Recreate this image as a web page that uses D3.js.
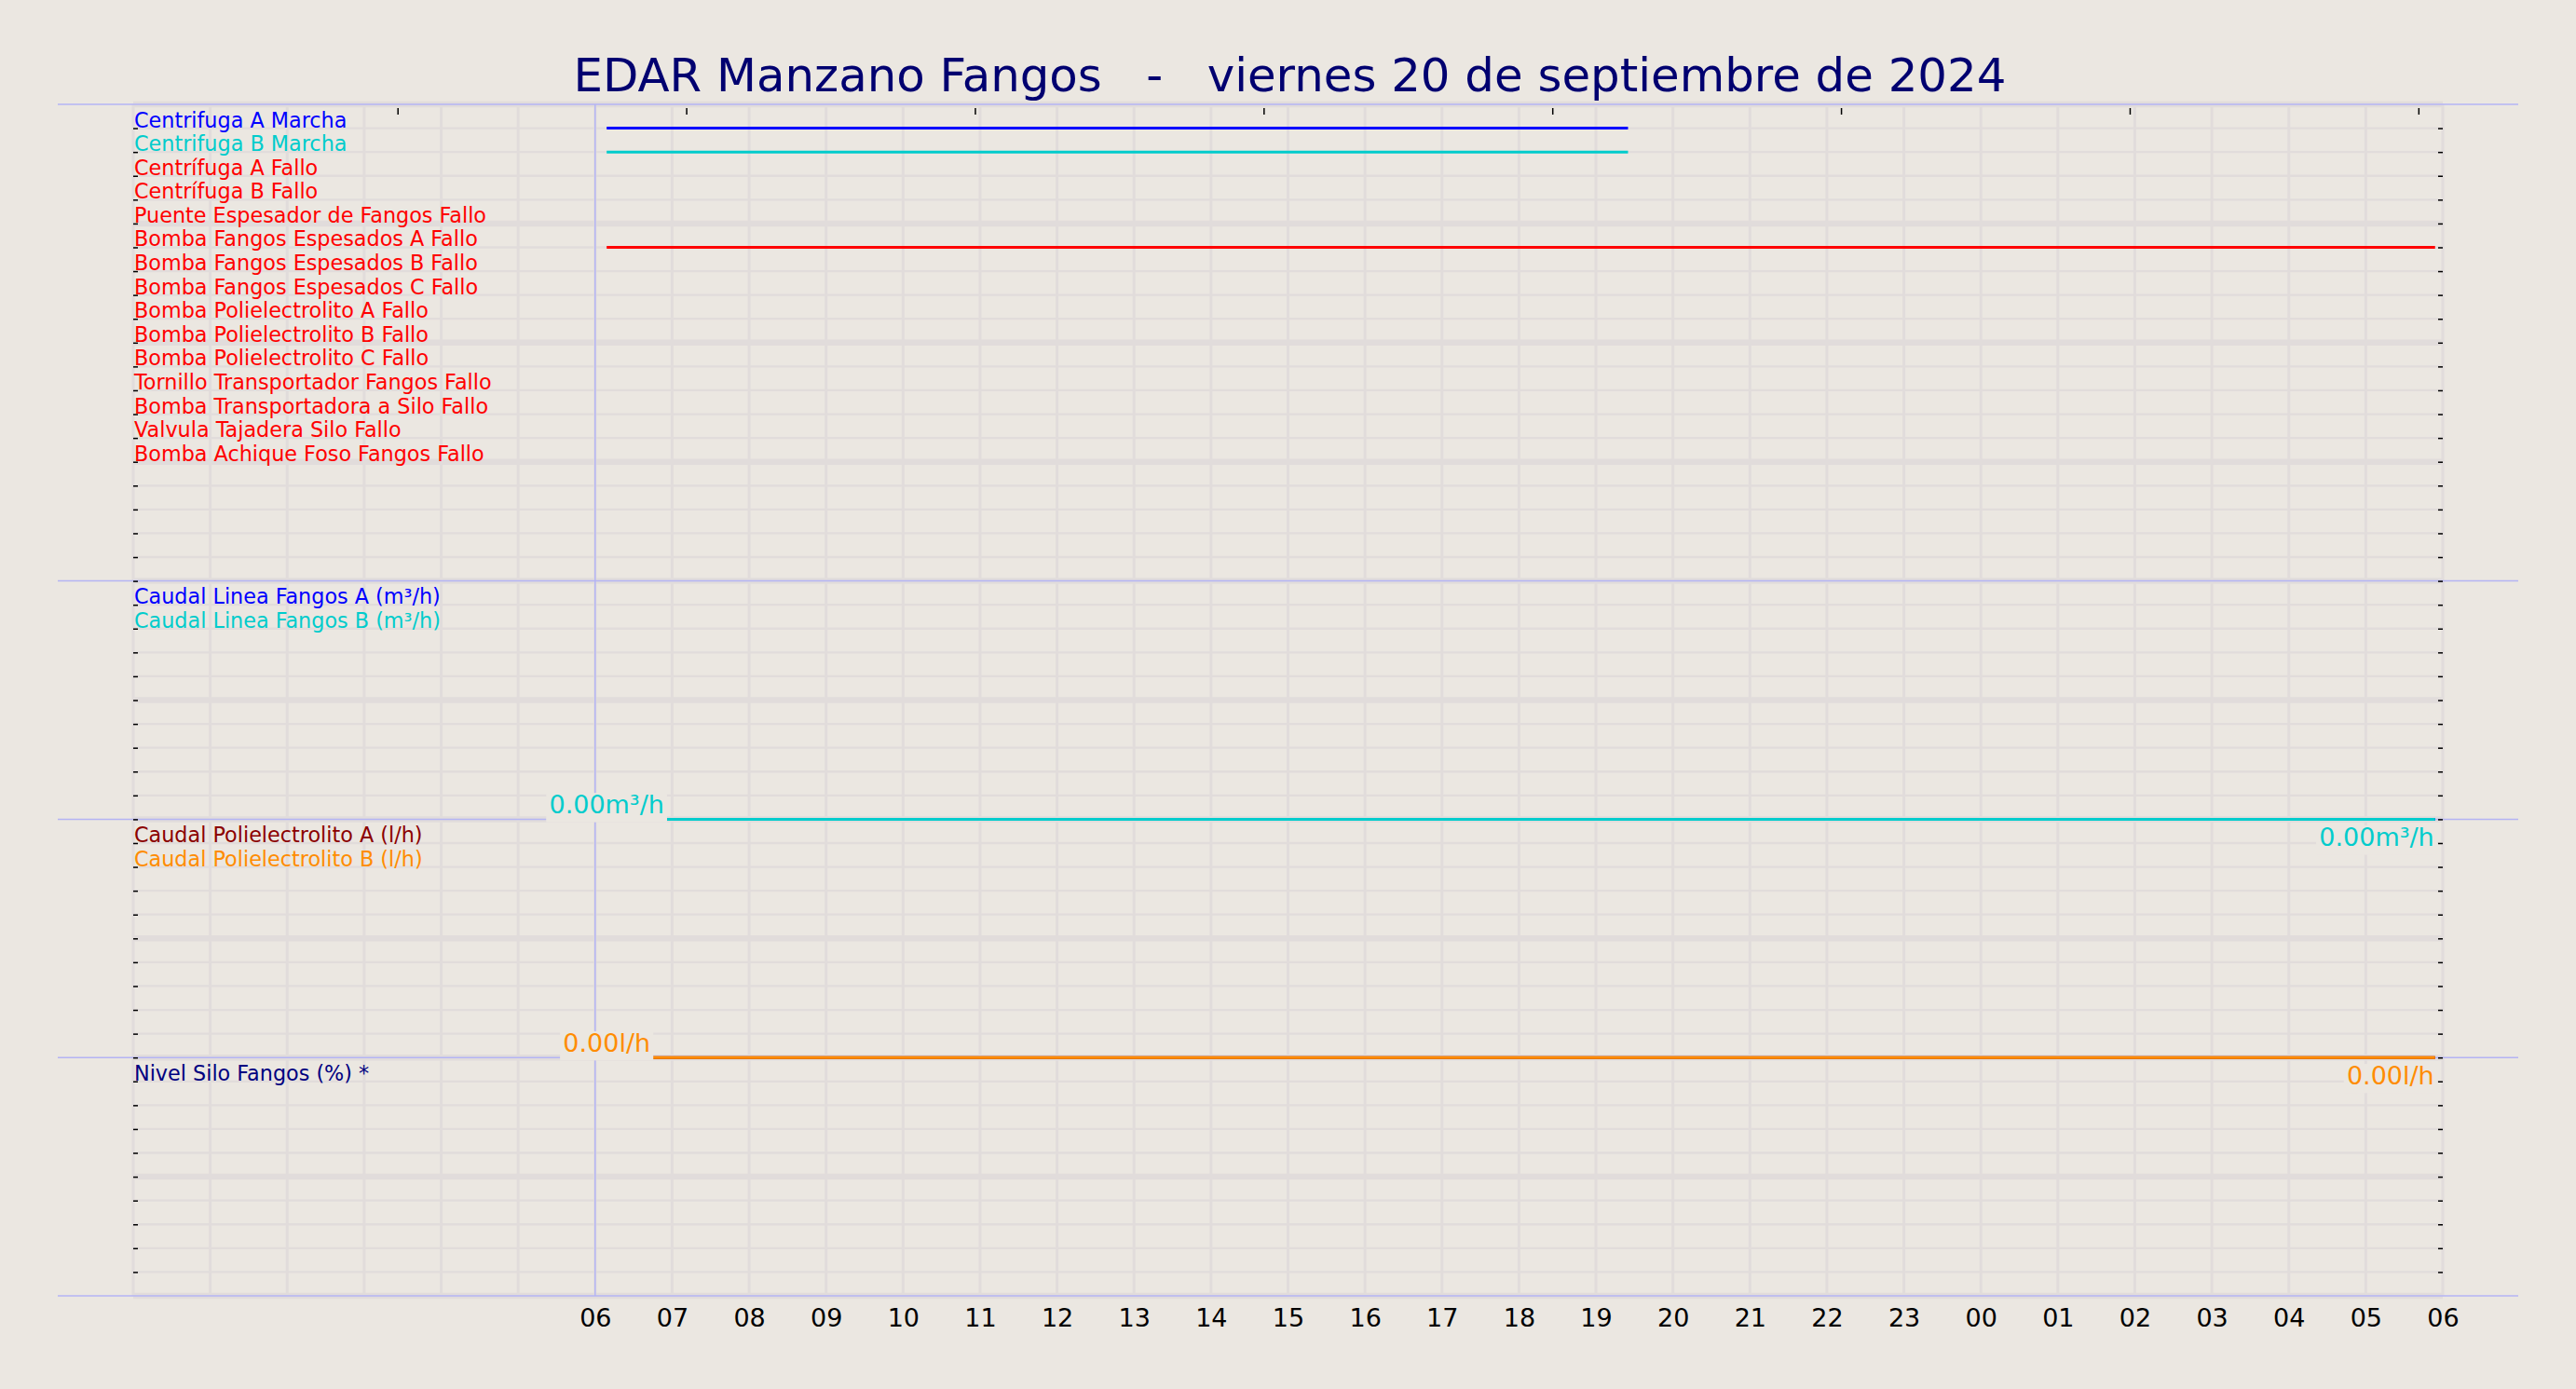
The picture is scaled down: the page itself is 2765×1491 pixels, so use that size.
<!DOCTYPE html>
<html>
<head>
<meta charset="utf-8">
<script src="https://cdn.jsdelivr.net/npm/d3@7"></script>
<style>
body{margin:0;background:#ebe7e1;overflow:hidden;}
text{font-family:"DejaVu Sans",sans-serif;}
</style>
</head>
<body>
<div id="chart"></div>
<script>
// chart values
var title = "EDAR Manzano Fangos   -   viernes 20 de septiembre de 2024";
var dayStart = "2024-09-20T00:00", dayEnd = "2024-09-21T06:00";
var labelFrom = "2024-09-20T06:00";
var topTicks = ["2024-09-20T03:26","2024-09-20T07:11","2024-09-20T10:56","2024-09-20T14:41",
				"2024-09-20T18:26","2024-09-20T22:11","2024-09-21T01:56","2024-09-21T05:41"];

var digitalLabels = ["Centrifuga A Marcha","Centrifuga B Marcha","Centrífuga A Fallo","Centrífuga B Fallo",
				"Puente Espesador de Fangos Fallo","Bomba Fangos Espesados A Fallo","Bomba Fangos Espesados B Fallo",
				"Bomba Fangos Espesados C Fallo","Bomba Polielectrolito A Fallo","Bomba Polielectrolito B Fallo",
				"Bomba Polielectrolito C Fallo","Tornillo Transportador Fangos Fallo","Bomba Transportadora a Silo Fallo",
				"Valvula Tajadera Silo Fallo","Bomba Achique Foso Fangos Fallo"];
var digitalColors = ["#0000ff","#00cccc","#ff0000","#ff0000","#ff0000","#ff0000","#ff0000","#ff0000",
				"#ff0000","#ff0000","#ff0000","#ff0000","#ff0000","#ff0000","#ff0000"];
// periods where each signal is active
var digitalOn = [
	[["2024-09-20T06:09","2024-09-20T19:25"]],
	[["2024-09-20T06:09","2024-09-20T19:25"]],
	[], [], [],
	[["2024-09-20T06:09","2024-09-21T05:54"]],
	[], [], [], [], [], [], [], [], []
];

var flowLabels = ["Caudal Linea Fangos A (m³/h)","Caudal Linea Fangos B (m³/h)"];
var flowColors = ["#0000ff","#00cccc"];
var flowA = [["2024-09-20T06:09",0],["2024-09-21T05:54",0]];
var flowB = [["2024-09-20T06:09",0],["2024-09-21T05:54",0]];

var polyLabels = ["Caudal Polielectrolito A (l/h)","Caudal Polielectrolito B (l/h)"];
var polyColors = ["#8b0000","#ff8c00"];
var polyA = [["2024-09-20T06:09",0],["2024-09-21T05:54",0]];
var polyB = [["2024-09-20T06:09",0],["2024-09-21T05:54",0]];

var siloLabels = ["Nivel Silo Fangos (%) *"];
var siloColors = ["#000080"];

// layout
var W = 2765, H = 1491;
var mLeft = 143, mRight = 2622, mTop = 112, mBottom = 1391;
var bg = "#ebe7e1", gridColor = "#e1dcdb", frameColor = "#b4b4f4";

var parse = d3.timeParse("%Y-%m-%dT%H:%M");

var x = d3.scaleTime().domain([parse(dayStart), parse(dayEnd)]).range([mLeft, mRight]);
var row = d3.scaleLinear().domain([0, 50]).range([mTop, mBottom]);

var panels = [
	{r0:0, r1:20, labels:digitalLabels, colors:digitalColors, digital:digitalOn},
	{r0:20, r1:30, labels:flowLabels, colors:flowColors, series:[flowA, flowB], unit:"m³/h", yMax:10},
	{r0:30, r1:40, labels:polyLabels, colors:polyColors, series:[polyA, polyB], unit:"l/h", yMax:10},
	{r0:40, r1:50, labels:siloLabels, colors:siloColors, series:[], unit:"%", yMax:100}
];

var svg = d3.select("#chart").append("svg")
	.attr("width", W)
	.attr("height", H)
	.style("display", "block")
	.style("background", bg);

// title
svg.append("text")
	.attr("x", W/2 + 2)
	.attr("y", 98)
	.attr("text-anchor", "middle")
	.style("font-size", "49.8px")
	.style("white-space", "pre")
	.attr("fill", "#000070")
	.text(title);

// grid : hours
var hours = d3.timeHour.range(parse(dayStart), d3.timeHour.offset(parse(dayEnd), 1));
svg.append("g").selectAll("line")
	.data(hours)
	.enter()
	.append("line")
	.attr("x1", function(d){return x(d);})
	.attr("x2", function(d){return x(d);})
	.attr("y1", mTop)
	.attr("y2", mBottom)
	.style("stroke", gridColor)
	.style("stroke-width", "3px");

// grid : rows, thicker every 5
svg.append("g").selectAll("line")
	.data(d3.range(0, 51))
	.enter()
	.append("line")
	.attr("x1", mLeft)
	.attr("x2", mRight)
	.attr("y1", function(d){return row(d);})
	.attr("y2", function(d){return row(d);})
	.style("stroke", gridColor)
	.style("stroke-width", function(d){return d%5 == 0 ? "6.5px" : "2.3px";});

// panel frame lines
var bounds = [0, 20, 30, 40, 50];
svg.append("g").selectAll("line")
	.data(bounds)
	.enter()
	.append("line")
	.attr("x1", mLeft - 81)
	.attr("x2", mRight + 81)
	.attr("y1", function(d){return row(d);})
	.attr("y2", function(d){return row(d);})
	.style("stroke", frameColor)
	.style("stroke-width", "1.5px");

svg.append("line")
	.attr("x1", x(parse(labelFrom)))
	.attr("x2", x(parse(labelFrom)))
	.attr("y1", mTop)
	.attr("y2", mBottom)
	.style("stroke", frameColor)
	.style("stroke-width", "1.5px");

// y ticks both sides (no labels), not on the outer border
var yTicks = d3.range(1, 50);
var yLeft = d3.axisRight(row).tickValues(yTicks).tickSize(5).tickFormat("");
var yRight = d3.axisLeft(row).tickValues(yTicks).tickSize(5).tickFormat("");
svg.append("g").attr("transform", "translate(" + mLeft + ",0)").call(yLeft);
svg.append("g").attr("transform", "translate(" + mRight + ",0)").call(yRight);

// top ticks
var xTop = d3.axisBottom(x).tickValues(topTicks.map(parse)).tickSize(7).tickFormat("");
svg.append("g").attr("transform", "translate(0,116)").call(xTop);

// bottom hour labels
var xLabels = d3.timeHour.range(parse(labelFrom), d3.timeHour.offset(parse(dayEnd), 1));
var xAxis = d3.axisBottom(x).tickValues(xLabels).tickSize(0).tickPadding(14).tickFormat(d3.timeFormat("%H"));
var gx = svg.append("g").attr("transform", "translate(0," + mBottom + ")").call(xAxis);
gx.selectAll("text").style("font-size", "27px").attr("fill", "#000");

svg.selectAll(".domain").remove();
svg.selectAll(".tick line").style("stroke", "#000").style("stroke-width", "1.5px");
gx.selectAll(".tick line").remove();

// data
var fmt = d3.format(".2f");
panels.forEach(function(p){
	if(p.digital){
		p.digital.forEach(function(segs, i){
			svg.append("g").selectAll("line")
				.data(segs)
				.enter()
				.append("line")
				.attr("x1", function(d){return x(parse(d[0]));})
				.attr("x2", function(d){return x(parse(d[1]));})
				.attr("y1", row(p.r0 + i + 1))
				.attr("y2", row(p.r0 + i + 1))
				.style("stroke", p.colors[i])
				.style("stroke-width", "3px");
		});
	}
	if(p.series){
		var y = d3.scaleLinear().domain([0, p.yMax]).range([row(p.r1), row(p.r0)]);
		var line = d3.line()
			.x(function(d){return x(parse(d[0]));})
			.y(function(d){return y(d[1]);});
		p.series.forEach(function(s, i){
			svg.append("path")
				.datum(s)
				.attr("d", line)
				.style("fill", "none")
				.style("stroke", p.colors[i])
				.style("stroke-width", "3px");
		});
		p.series.forEach(function(s, i){
			var first = s[0], last = s[s.length-1];
			var notes = [
				{d:first, anchor:"middle", dx:0, dy:-6},
				{d:last, anchor:"end", dx:-1, dy:29}
			];
			notes.forEach(function(n){
				var g = svg.append("g");
				var box = g.append("rect").style("fill", bg);
				var t = g.append("text")
					.attr("x", x(parse(n.d[0])) + n.dx)
					.attr("y", y(n.d[1]) + n.dy)
					.attr("text-anchor", n.anchor)
					.style("font-size", "27px")
					.attr("fill", p.colors[i])
					.text(fmt(n.d[1]) + p.unit);
				var bb = t.node().getBBox();
				box.attr("x", bb.x - 3)
					.attr("width", bb.width + 6)
					.attr("y", y(n.d[1]) + n.dy - 22)
					.attr("height", 31);
			});
		});
	}
	svg.append("g").selectAll("text")
		.data(p.labels)
		.enter()
		.append("text")
		.attr("x", mLeft + 1)
		.attr("y", function(d, i){return row(p.r0 + i + 1) - 1;})
		.style("font-size", "22.3px")
		.attr("fill", function(d, i){return p.colors[i];})
		.text(function(d){return d;});
});
</script>
</body>
</html>
